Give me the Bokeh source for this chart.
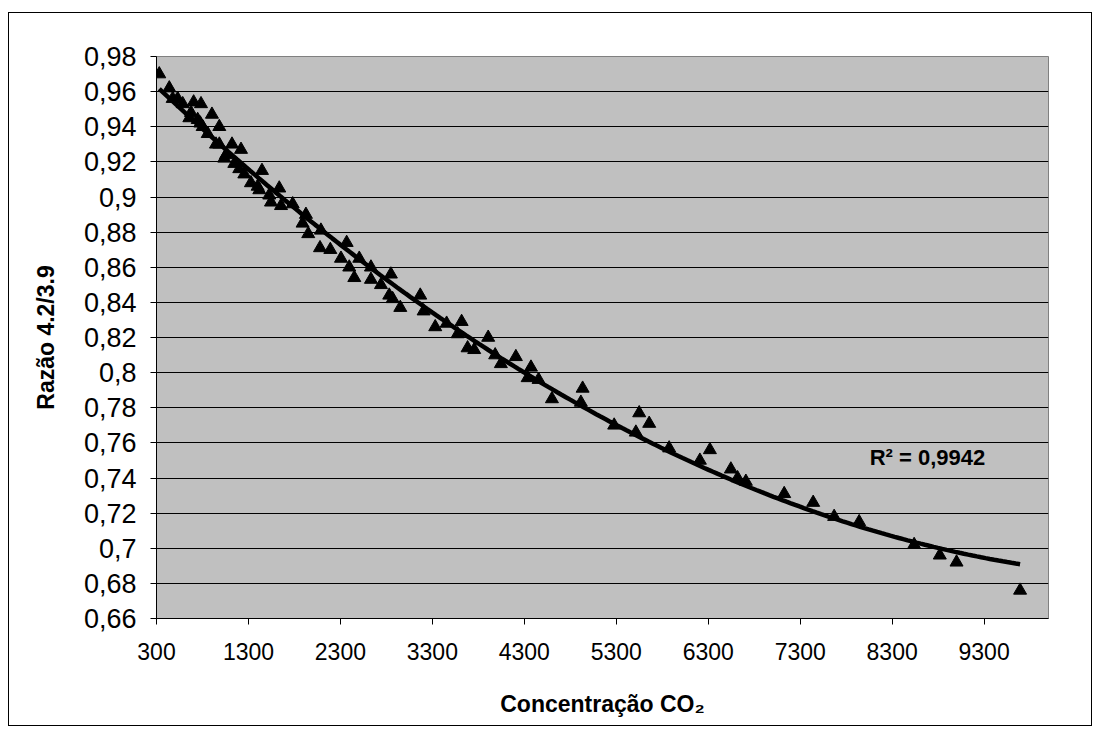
import numpy as np
from bokeh.plotting import figure
from bokeh.models import Range1d, FixedTicker, CustomJSTickFormatter, Label
from bokeh.embed import file_html
from bokeh.resources import INLINE

# ---- data ----
co2 = [330, 439, 530, 476, 585, 704, 784, 675, 657, 903, 748, 776, 802, 983, 857, 947, 983, 1121, 1219, 1056,
       1037, 1146, 1200, 1447, 1255, 1327, 1400, 1418, 1635, 1526, 1545, 1654, 1781, 1925,
       1889, 1950, 2088, 2078, 2190, 2368, 2306, 2505, 2396, 2451, 2632, 2632, 2741, 2849, 2831, 2868, 2951,
       3168, 3205, 3331, 3455, 3618, 3575, 3907,
       3683, 3755, 3983, 4045, 4208, 4372, 4336, 4455, 4600, 4934, 4915, 5277, 5513, 5549, 5658,
       5875, 6318, 6209, 6546, 6619, 6709, 7126, 7441, 7669,
       7941, 8539, 8818, 9000, 9691]
ratio = [0.970, 0.962, 0.956, 0.956, 0.953, 0.954, 0.953, 0.948, 0.945, 0.947, 0.944, 0.942, 0.940, 0.940, 0.936,
         0.930, 0.930, 0.930, 0.927, 0.924, 0.922, 0.919, 0.916, 0.915, 0.913, 0.908, 0.906, 0.904, 0.905, 0.901,
         0.897, 0.895, 0.896, 0.890,
         0.885, 0.879, 0.881, 0.871, 0.870, 0.874, 0.865, 0.865, 0.860, 0.854, 0.860, 0.853, 0.850, 0.856, 0.844,
         0.842, 0.837, 0.844, 0.835, 0.826, 0.828, 0.829, 0.822, 0.820,
         0.814, 0.813, 0.810, 0.805, 0.809, 0.803, 0.797, 0.796, 0.785, 0.791, 0.783, 0.770, 0.766, 0.777, 0.771,
         0.757, 0.756, 0.750, 0.745, 0.740, 0.738, 0.731, 0.726, 0.718,
         0.715, 0.702, 0.696, 0.692, 0.676]

x_ticks = [300, 1300, 2300, 3300, 4300, 5300, 6300, 7300, 8300, 9300]
y_ticks = [0.66, 0.68, 0.70, 0.72, 0.74, 0.76, 0.78, 0.80, 0.82, 0.84, 0.86, 0.88, 0.90, 0.92, 0.94, 0.96, 0.98]
x_title = "Concentração CO₂"
y_title = "Razão 4.2/3.9"
r2_text = "R² = 0,9942"
r2_pos = (8055, 0.7517)

FONT = "Liberation Sans"

p = figure(width=1084, height=714, output_backend="svg", toolbar_location=None,
           x_range=Range1d(300, 10000), y_range=Range1d(0.66, 0.98),
           min_border_left=147, min_border_right=45, min_border_top=43, min_border_bottom=109)
p.styles = {"border": "1px solid #000000"}
p.margin = (12, 0, 0, 8)

p.background_fill_color = "#C0C0C0"
p.border_fill_color = "white"
p.outline_line_color = "#808080"
p.outline_line_width = 1

p.xaxis.ticker = FixedTicker(ticks=x_ticks)
p.yaxis.ticker = FixedTicker(ticks=y_ticks)
p.yaxis.formatter = CustomJSTickFormatter(code="return tick.toFixed(2).replace(/0$/, '').replace('.', ',');")

for ax in (p.xaxis, p.yaxis):
    ax.axis_line_color = "black"
    ax.major_tick_line_color = "black"
    ax.major_tick_out = 6
    ax.major_tick_in = 0
    ax.minor_tick_line_color = None
    ax.major_label_text_font = FONT
    ax.major_label_text_color = "black"
    ax.axis_label_text_font = FONT
    ax.axis_label_text_font_style = "bold"
    ax.axis_label_text_color = "black"
    ax.axis_label_text_font_size = "23px"

p.xaxis.major_label_text_font_size = "23px"
p.yaxis.major_label_text_font_size = "27px"
p.xaxis.major_label_standoff = 18
p.yaxis.major_label_standoff = 14
p.xaxis.axis_label = x_title
p.yaxis.axis_label = y_title
p.xaxis.axis_label_standoff = 28
p.yaxis.axis_label_standoff = 22

p.xgrid.visible = False
p.ygrid.grid_line_color = "black"
p.ygrid.grid_line_width = 1

p.scatter(co2, ratio, marker="triangle", size=13, color="black")

coef = np.polyfit(co2, ratio, 2)
xs = np.linspace(min(co2), max(co2), 200)
ys = np.polyval(coef, xs)
p.line(xs, ys, line_width=4.5, color="black")

p.add_layout(Label(x=r2_pos[0], y=r2_pos[1], text=r2_text, text_font=FONT, text_font_size="22px",
                   text_font_style="bold", text_color="black", text_baseline="alphabetic"))

open("out.html", "w").write(file_html(p, INLINE))
